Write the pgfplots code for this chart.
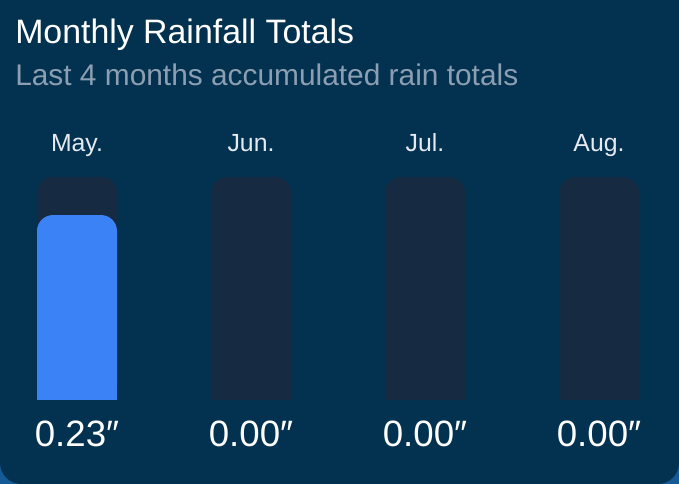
\documentclass[border=0pt]{standalone}
\usepackage{pgfplots}
\pgfplotsset{compat=1.18}
\usepackage{pgfplotstable}
\usepackage{fontspec}
\setmainfont{Liberation Sans}
\definecolor{cardbg}{RGB}{3,50,80}
\definecolor{cornerbg}{RGB}{20,90,150}
\definecolor{track}{RGB}{22,42,66}
\definecolor{rainblue}{RGB}{59,130,246}
\definecolor{subgray}{RGB}{140,158,178}
\definecolor{monthcol}{RGB}{228,234,240}

% month, accumulated rain (inches)
\pgfplotstableread{
x month v
0 May. 0.23
1 Jun. 0.00
2 Jul. 0.00
3 Aug. 0.00
}\rain

\begin{document}
\begin{tikzpicture}[x=0.75pt,y=0.75pt]
\fill[cornerbg] (0,0) rectangle (679,484);
\fill[cardbg, rounded corners=16] (0,0) rectangle (679,484);
\fill[cardbg] (0,200) rectangle (679,484);

\node[anchor=base west, inner sep=0, text=white, font=\fontsize{25.4}{30}\selectfont] at (15,440) {Monthly Rainfall Totals};
\node[anchor=base west, inner sep=0, text=subgray, font=\fontsize{22.4}{26}\selectfont] at (15,398) {Last 4 months accumulated rain totals};

% bars: rounded top part + square lower part so only the tops are rounded
\begin{axis}[at={(0pt,63pt)}, anchor=south west, scale only axis,
  width=509.25pt, height=167.25pt,
  xmin=-0.44253, xmax=3.45977, ymin=0, ymax=0.2773,
  hide axis, clip=true, unbounded coords=discard]
\addplot[ybar, bar width=60pt, bar shift=0pt, fill=track, draw=none]
  coordinates {(0,0.2473) (1,0.2473) (2,0.2473) (3,0.2473)};
\addplot[ybar, bar width=60pt, bar shift=0pt, fill=track, draw=none, rounded corners=12pt]
  coordinates {(0,0.2773) (1,0.2773) (2,0.2773) (3,0.2773)};
\addplot[ybar, bar width=60pt, bar shift=0pt, fill=rainblue, draw=none, rounded corners=12pt,
  y filter/.expression={y<=0 ? nan : y}]
  table[x=x, y=v] {\rain};
\addplot[ybar, bar width=60pt, bar shift=0pt, fill=rainblue, draw=none,
  y filter/.expression={y<=0 ? nan : y}]
  table[x=x, y expr=\thisrow{v}-0.03] {\rain};
\end{axis}

% labels
\begin{axis}[at={(0pt,63pt)}, anchor=south west, scale only axis,
  width=509.25pt, height=167.25pt,
  xmin=-0.44253, xmax=3.45977, ymin=0, ymax=0.2773,
  hide axis, clip=false]
\addplot[draw=none, mark=none, point meta=explicit,
  nodes near coords={\pgfmathprintnumber[fixed,fixed zerofill,precision=2,assume math mode=true]{\pgfplotspointmeta}″},
  every node near coord/.style={anchor=base, inner sep=0, yshift=-35.25pt, text=white, font=\fontsize{27.5}{32}\selectfont}]
  table[x=x, y expr=0, meta=v] {\rain};
\addplot[draw=none, mark=none, point meta=explicit symbolic,
  nodes near coords={\pgfplotspointmeta},
  every node near coord/.style={anchor=base, inner sep=0, yshift=18.75pt, text=monthcol, font=\fontsize{18.6}{22}\selectfont}]
  table[x=x, y expr=0.2773, meta=month] {\rain};
\end{axis}

\pgfresetboundingbox
\path[use as bounding box] (0,0) rectangle (679,484);
\end{tikzpicture}
\end{document}
